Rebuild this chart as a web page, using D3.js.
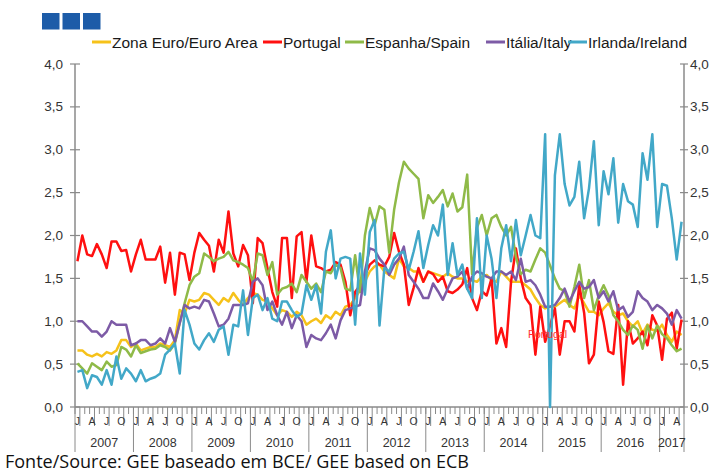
<!DOCTYPE html>
<html>
<head>
<meta charset="utf-8">
<script src="https://cdnjs.cloudflare.com/ajax/libs/d3/7.8.5/d3.min.js"></script>
<style>
body{margin:0;background:#fff;}
svg{display:block;font-family:"Liberation Sans",Arial,sans-serif;}
</style>
</head>
<body>
<script>
// monthly spreads, Jan 2007 .. May 2017
var years = ["2007","2008","2009","2010","2011","2012","2013","2014","2015","2016","2017"];
var monthLetters = ["J","A","J","O"];
var yTicks = [0,0.5,1,1.5,2,2.5,3,3.5,4];
var seriesNames = ["Zona Euro/Euro Area","Portugal","Espanha/Spain","Itália/Italy","Irlanda/Ireland"];

var euroArea = [0.66,0.66,0.61,0.59,0.62,0.59,0.64,0.62,0.66,0.78,0.78,0.70,0.74,0.66,0.68,0.70,0.70,0.74,0.72,0.70,
  0.78,1.13,1.09,1.25,1.23,1.25,1.33,1.31,1.25,1.19,
  1.27,1.23,1.33,1.25,1.19,1.27,1.33,1.31,1.25,1.23,1.15,1.07,1.13,1.11,1.05,1.11,1.07,0.96,1.00,1.03,
  0.98,1.07,1.03,1.11,1.07,1.17,1.19,1.27,1.36,1.46,1.58,1.64,1.66,
  1.58,1.54,1.50,1.73,1.64,1.62,1.58,1.58,1.46,1.58,1.56,1.54,1.52,1.56,1.52,1.50,1.50,1.46,1.48,1.46,
  1.52,1.54,1.48,1.46,1.58,1.52,1.46,1.46,1.46,1.42,
  1.37,1.27,1.19,1.15,1.17,1.17,1.21,1.25,1.19,1.15,1.30,1.21,1.11,1.11,1.07,1.15,1.21,1.11,1.07,1.09,
  1.00,0.94,1.00,0.86,0.96,0.90,0.89,0.96,0.84,0.76,0.88,0.84];

var portugal = [1.70,2.00,1.78,1.76,1.90,1.78,1.62,1.93,1.93,1.82,1.83,1.58,1.78,1.95,1.72,1.72,1.72,1.87,1.45,1.80,
  1.31,1.80,1.78,1.48,1.80,2.03,1.95,1.88,1.58,1.95,
  1.80,2.28,1.79,1.64,1.89,1.77,1.21,1.97,1.91,1.62,1.34,1.17,1.97,1.97,1.27,1.99,2.04,1.46,2.00,1.64,
  1.62,1.58,1.60,1.69,1.66,1.46,1.07,1.34,1.42,1.54,1.66,1.71,1.66,
  1.64,1.75,2.03,1.81,1.66,1.19,1.39,1.62,1.46,1.58,1.55,1.46,1.52,1.35,1.33,1.37,1.43,1.62,1.27,1.13,
  1.35,1.30,1.50,0.74,0.92,0.70,1.46,1.85,1.50,1.27,
  1.19,0.61,1.17,0.76,0.95,1.15,0.61,1.00,1.00,0.88,1.42,1.10,0.51,0.61,1.23,0.99,0.65,0.62,1.19,0.26,
  1.00,0.74,0.80,0.88,0.72,1.07,0.95,0.55,1.03,1.10,0.68,1.02];

var spain = [0.51,0.45,0.39,0.51,0.47,0.43,0.53,0.47,0.49,0.70,0.67,0.59,0.72,0.63,0.65,0.67,0.68,0.72,0.70,0.66,
  0.74,0.98,1.21,1.42,1.52,1.56,1.79,1.75,1.70,1.73,
  1.75,1.81,1.71,1.69,1.66,1.62,1.46,1.79,1.77,1.54,1.69,1.31,1.38,1.40,1.44,1.34,1.54,1.46,1.38,1.44,
  1.34,1.58,1.56,1.66,1.62,1.38,1.36,1.77,1.34,2.00,2.32,2.12,2.34,
  2.30,1.80,2.30,2.62,2.86,2.78,2.72,2.66,2.20,2.47,2.38,2.45,2.53,2.34,2.49,2.28,2.33,2.71,1.55,2.09,
  2.24,2.00,2.20,2.24,2.10,2.00,2.10,1.75,1.55,1.60,
  1.58,1.72,1.85,1.80,1.65,1.50,1.38,1.35,1.17,1.40,1.66,1.27,1.48,1.13,1.30,1.42,1.30,1.07,1.00,0.90,
  0.84,0.95,0.90,0.68,0.95,0.80,0.95,0.85,0.80,0.72,0.65,0.68];

var italy = [1.00,1.00,0.94,0.88,0.88,0.82,0.88,1.00,0.96,0.96,0.96,0.72,0.74,0.78,0.78,0.72,0.74,0.80,0.74,0.92,
  0.76,0.98,1.19,1.15,1.17,1.15,1.25,1.23,1.09,0.94,
  0.96,1.03,1.19,1.19,1.19,1.21,1.46,1.50,1.42,1.13,1.23,1.07,0.96,1.11,0.92,1.07,1.00,0.70,0.84,0.80,
  0.78,0.86,0.96,0.80,1.01,1.13,1.15,1.17,1.19,1.58,1.85,1.83,1.73,
  1.66,1.54,1.66,1.73,1.87,1.54,1.46,1.38,1.27,1.27,1.44,1.35,1.25,1.38,1.50,1.52,1.58,1.38,1.52,1.58,
  1.56,1.52,1.50,1.58,1.58,1.54,1.58,1.48,1.73,1.46,
  1.48,1.42,1.31,1.17,1.17,1.19,1.27,1.38,1.23,1.35,1.46,1.38,1.40,1.48,1.27,1.35,1.23,1.35,1.13,1.17,
  1.05,1.11,1.35,1.27,1.23,1.13,1.19,1.15,1.09,0.96,1.13,1.03];

var ireland = [0.41,0.43,0.22,0.37,0.35,0.26,0.43,0.26,0.59,0.33,0.45,0.39,0.30,0.43,0.30,0.33,0.35,0.39,0.61,0.67,
  0.74,0.39,1.13,0.96,0.74,0.67,0.78,0.86,0.76,0.90,
  0.94,0.61,0.96,0.94,1.36,0.84,1.27,1.31,1.13,1.27,1.03,1.00,1.23,1.23,1.13,1.05,1.09,1.42,1.25,1.42,
  1.09,1.81,2.06,1.50,1.73,1.75,1.73,0.96,1.79,1.31,2.04,2.18,0.95,
  1.62,1.58,1.73,1.79,1.81,1.60,1.81,2.05,1.62,1.89,2.12,2.00,2.36,1.54,1.91,1.54,1.66,1.38,1.27,2.20,
  1.27,2.00,1.73,1.27,1.85,2.12,1.70,2.18,1.77,2.00,
  2.24,2.00,1.97,3.18,0.00,2.70,3.18,2.60,2.35,2.45,2.86,2.20,2.55,3.10,2.12,2.75,2.48,2.90,2.15,2.60,
  2.40,2.36,2.10,2.96,2.65,3.18,2.10,2.60,2.58,2.20,1.72,2.16];

var colors = ["#f6c21a","#ff1010","#8fba48","#7d5ba6","#42a8c8"];

function build(){
  var width = 719, height = 473;
  var left = 75, right = 684, top = 64, bottom = 407;
  var nMonths = euroArea.length;

  var svg = d3.select("body").append("svg").attr("width", width).attr("height", height);

  var x = d3.scaleLinear().domain([0, nMonths]).range([left, right]);
  var y = d3.scaleLinear().domain([0, 4]).range([bottom, top]);

  // logo squares
  svg.selectAll(".logo").data([0,1,2]).enter().append("rect")
    .attr("x", function(d){ return 42 + d*20.5; })
    .attr("y", 13).attr("width", 17.5).attr("height", 16.5)
    .attr("fill", "#1d5ca8");

  // legend
  var legendX = [92, 263, 345, 486, 568];
  var leg = svg.selectAll(".leg").data(seriesNames).enter().append("g")
    .attr("transform", function(d, i){ return "translate(" + legendX[i] + ",42)"; });
  leg.append("line").attr("x1", 0).attr("x2", 19).attr("y1", 0).attr("y2", 0)
    .attr("stroke", function(d, i){ return colors[i]; }).attr("stroke-width", 3);
  leg.append("text").attr("x", 20).attr("y", 5.5)
    .attr("font-size", "15.5px").attr("fill", "#1a1a1a").text(function(d){ return d; });

  // axes
  var axisColor = "#8a8a8a";
  svg.append("line").attr("x1", left).attr("x2", left).attr("y1", top).attr("y2", bottom)
    .attr("stroke", axisColor).attr("stroke-width", 1.5);
  svg.append("line").attr("x1", right).attr("x2", right).attr("y1", top).attr("y2", bottom)
    .attr("stroke", axisColor).attr("stroke-width", 1.5);

  var yt = svg.selectAll(".ytick").data(yTicks).enter().append("g");
  yt.append("line").attr("x1", left - 5).attr("x2", left + 5)
    .attr("y1", function(d){ return y(d); }).attr("y2", function(d){ return y(d); })
    .attr("stroke", axisColor).attr("stroke-width", 1.2);
  yt.append("line").attr("x1", right - 4).attr("x2", right + 4)
    .attr("y1", function(d){ return y(d); }).attr("y2", function(d){ return y(d); })
    .attr("stroke", axisColor).attr("stroke-width", 1.2);
  var fmt = function(d){ return d3.format(".1f")(d).replace(".", ","); };
  yt.append("text").attr("x", 63).attr("y", function(d){ return y(d) + 4.5; })
    .attr("text-anchor", "end").attr("font-size", "13.5px").attr("fill", "#333").text(fmt);
  yt.append("text").attr("x", 690).attr("y", function(d){ return y(d) + 4.5; })
    .attr("font-size", "13.5px").attr("fill", "#333").text(fmt);

  // x axis: month ticks, quarter letters, year bands
  svg.append("line").attr("x1", left).attr("x2", right).attr("y1", bottom).attr("y2", bottom)
    .attr("stroke", axisColor).attr("stroke-width", 1.5);
  var monthIdx = d3.range(nMonths + 1);
  svg.selectAll(".mtick").data(monthIdx).enter().append("line")
    .attr("x1", function(d){ return x(d); }).attr("x2", function(d){ return x(d); })
    .attr("y1", bottom).attr("y2", function(d){ return d % 3 == 1 ? bottom + 19 : bottom + 7; })
    .attr("stroke", axisColor).attr("stroke-width", 1);
  var quarters = monthIdx.filter(function(d){ return d % 3 == 0 && d < nMonths; });
  svg.selectAll(".qlab").data(quarters).enter().append("text")
    .attr("x", function(d){ return x(d + 0.5); }).attr("y", bottom + 18)
    .attr("text-anchor", "middle").attr("font-size", "10.5px").attr("fill", "#333")
    .text(function(d){ return monthLetters[(d % 12) / 3]; });
  var yearEdges = years.map(function(d, i){ return i * 12; });
  svg.selectAll(".ysep").data(yearEdges.concat([nMonths])).enter().append("line")
    .attr("x1", function(d){ return x(d); }).attr("x2", function(d){ return x(d); })
    .attr("y1", bottom).attr("y2", bottom + 45)
    .attr("stroke", axisColor).attr("stroke-width", 1);
  svg.selectAll(".ylab").data(years).enter().append("text")
    .attr("x", function(d, i){ return x(Math.min(i * 12 + 6, (i * 12 + nMonths) / 2)); })
    .attr("y", bottom + 40)
    .attr("text-anchor", "middle").attr("font-size", "12.5px").attr("fill", "#333")
    .text(function(d){ return d; });

  // series
  var allSeries = [euroArea, portugal, spain, italy, ireland];
  var line = d3.line()
    .x(function(d, i){ return x(i + 0.5); })
    .y(function(d){ return y(d); });
  svg.selectAll(".series").data(allSeries).enter().append("path")
    .attr("d", line).attr("fill", "none")
    .attr("stroke", function(d, i){ return colors[i]; })
    .attr("stroke-width", 2.5).attr("stroke-linejoin", "round");

  // stray data label left in the original chart
  svg.append("text").attr("x", 528).attr("y", 338).attr("font-size", "10.5px")
    .attr("fill", "#ff3030").text("Portugal");

  svg.append("text").attr("x", 5).attr("y", 468)
    .attr("font-family", "'Open Sans', sans-serif").attr("font-size", "18px").attr("fill", "#111")
    .text("Fonte/Source: GEE baseado em BCE/ GEE based on ECB");
}
build();
</script>
</body>
</html>
